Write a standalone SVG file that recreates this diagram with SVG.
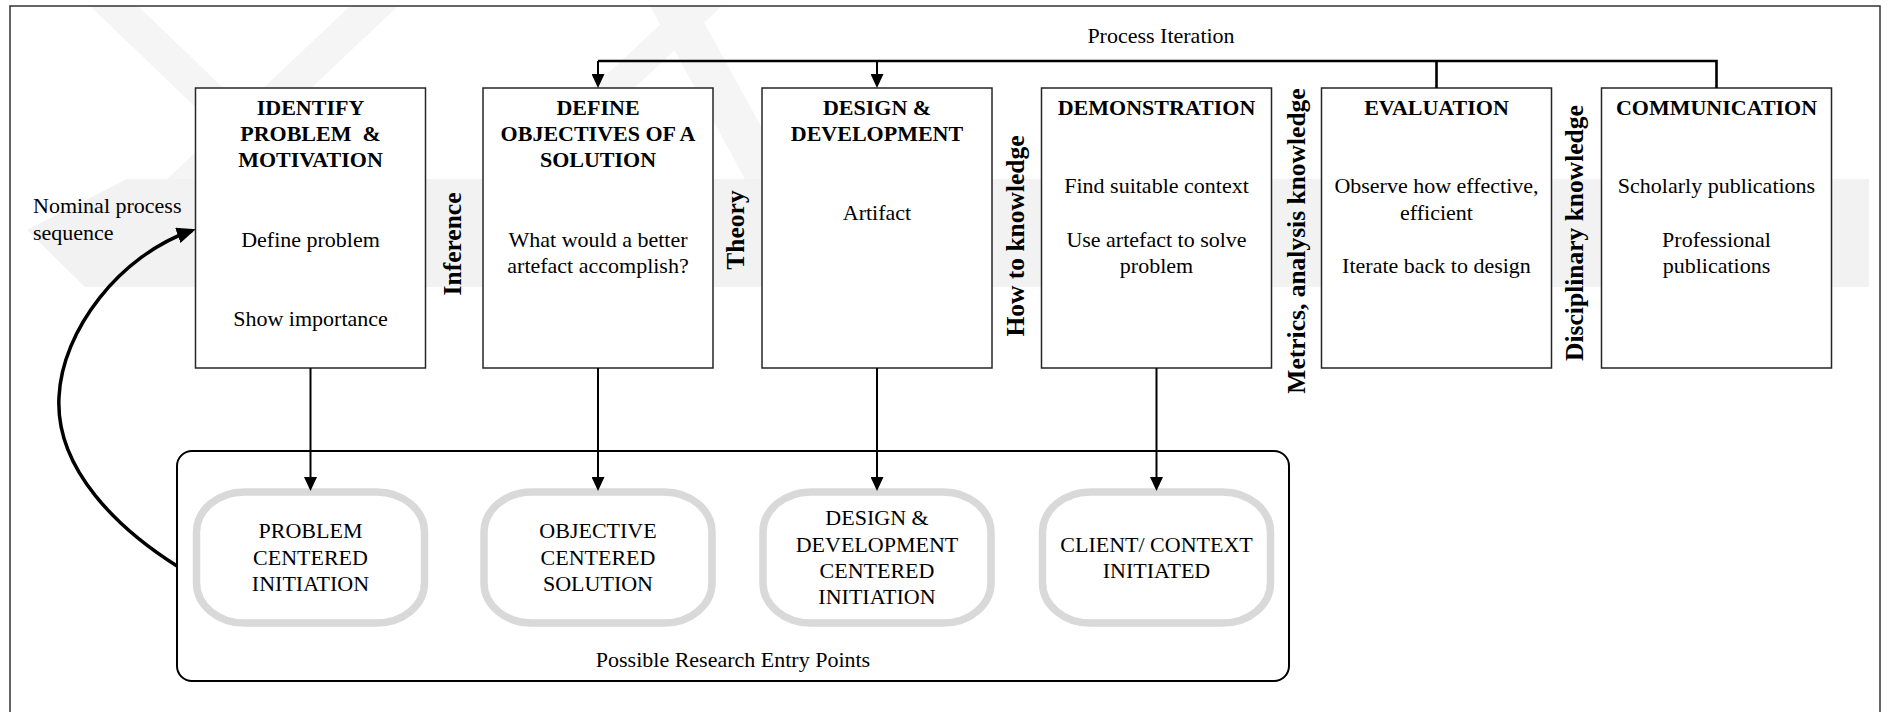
<svg xmlns="http://www.w3.org/2000/svg" width="1888" height="712" viewBox="0 0 1888 712">
  <defs>
    <style>
      .t { font-family: "Liberation Serif", "Times New Roman", serif; font-size: 22px; fill: #000; text-anchor: middle; }
      .b { font-weight: bold; }
      .v { font-size: 25.5px; font-weight: bold; }
      .l { text-anchor: start; }
      .step { fill: #fff; stroke: #262626; stroke-width: 1.5; }
      .entry { fill: #fff; stroke: #d9d9d9; stroke-width: 7.5; }
      .wire { fill: none; stroke: #000; stroke-width: 2; }
      .iter { fill: none; stroke: #000; stroke-width: 2.6; }
      .wm { fill: #f2f2f2; }
      .wm2 { fill: #f5f5f5; }
    </style>
    <marker id="ah" markerUnits="userSpaceOnUse" markerWidth="14" markerHeight="13" refX="11" refY="6.5" orient="auto">
      <path d="M0,0 L14,6.5 L0,13 z" fill="#000"/>
    </marker>
    <marker id="ahBig" markerUnits="userSpaceOnUse" markerWidth="19" markerHeight="16" refX="15" refY="8" orient="auto">
      <path d="M0,0 L19,8 L0,16 z" fill="#000"/>
    </marker>
  </defs>

  <rect width="1888" height="712" fill="#fff"/>

  <!-- faint background emblem -->
  <g id="backdrop">
    <polygon class="wm2" points="90,6 138,6 318,179 270,179"/>
    <polygon class="wm2" points="350,6 398,6 215,179 167,179"/>
    <polygon class="wm2" points="680,6 722,6 537,179 495,179"/>
    <polygon class="wm2" points="650,6 695,6 790,179 745,179"/>
    <polygon class="wm" points="127,179 1869,179 1869,287 85,287 27,230"/>
  </g>

  <!-- outer frame -->
  <rect x="10" y="6" width="1870" height="730" fill="none" stroke="#333" stroke-width="1.5"/>

  <text class="t" x="1161" y="43">Process Iteration</text>
  <text class="t l" x="33" y="213">Nominal process</text>
  <text class="t l" x="33" y="240">sequence</text>

  <!-- knowledge labels between steps -->
  <text class="t v" transform="translate(461,244) rotate(-90)">Inference</text>
  <text class="t v" transform="translate(744,230) rotate(-90)">Theory</text>
  <text class="t v" transform="translate(1024,236) rotate(-90)">How to knowledge</text>
  <text class="t v" transform="translate(1305,241) rotate(-90)">Metrics, analysis knowledge</text>
  <text class="t v" transform="translate(1583,233) rotate(-90)">Disciplinary knowledge</text>

  <!-- process steps -->
  <g id="step-identify">
    <rect class="step" x="195.5" y="88" width="230" height="280"/>
    <text class="t b" x="310.5" y="115">IDENTIFY</text>
    <text class="t b" x="310.5" y="141" xml:space="preserve">PROBLEM  &amp;</text>
    <text class="t b" x="310.5" y="167">MOTIVATION</text>
    <text class="t" x="310.5" y="247">Define problem</text>
    <text class="t" x="310.5" y="326">Show importance</text>
  </g>
  <g id="step-objectives">
    <rect class="step" x="483" y="88" width="230" height="280"/>
    <text class="t b" x="598" y="115">DEFINE</text>
    <text class="t b" x="598" y="141">OBJECTIVES OF A</text>
    <text class="t b" x="598" y="167">SOLUTION</text>
    <text class="t" x="598" y="247">What would a better</text>
    <text class="t" x="598" y="273">artefact accomplish?</text>
  </g>
  <g id="step-design">
    <rect class="step" x="762" y="88" width="230" height="280"/>
    <text class="t b" x="877" y="115">DESIGN &amp;</text>
    <text class="t b" x="877" y="141">DEVELOPMENT</text>
    <text class="t" x="877" y="220">Artifact</text>
  </g>
  <g id="step-demonstration">
    <rect class="step" x="1041.5" y="88" width="230" height="280"/>
    <text class="t b" x="1156.5" y="115">DEMONSTRATION</text>
    <text class="t" x="1156.5" y="193">Find suitable context</text>
    <text class="t" x="1156.5" y="247">Use artefact to solve</text>
    <text class="t" x="1156.5" y="273">problem</text>
  </g>
  <g id="step-evaluation">
    <rect class="step" x="1321.5" y="88" width="230" height="280"/>
    <text class="t b" x="1436.5" y="115">EVALUATION</text>
    <text class="t" x="1436.5" y="193">Observe how effective,</text>
    <text class="t" x="1436.5" y="220">efficient</text>
    <text class="t" x="1436.5" y="273">Iterate back to design</text>
  </g>
  <g id="step-communication">
    <rect class="step" x="1601.5" y="88" width="230" height="280"/>
    <text class="t b" x="1716.5" y="115">COMMUNICATION</text>
    <text class="t" x="1716.5" y="193">Scholarly publications</text>
    <text class="t" x="1716.5" y="247">Professional</text>
    <text class="t" x="1716.5" y="273">publications</text>
  </g>

  <!-- research entry points -->
  <g id="entry-points">
    <rect x="177" y="451" width="1112" height="230" rx="15" fill="none" stroke="#000" stroke-width="2"/>
    <text class="t" x="733" y="667">Possible Research Entry Points</text>
  </g>
  <g id="entry-problem">
    <rect class="entry" x="196.5" y="492" width="228" height="131" rx="48" ry="40"/>
    <text class="t" x="310.5" y="538">PROBLEM</text>
    <text class="t" x="310.5" y="564.5">CENTERED</text>
    <text class="t" x="310.5" y="591">INITIATION</text>
  </g>
  <g id="entry-objective">
    <rect class="entry" x="484" y="492" width="228" height="131" rx="48" ry="40"/>
    <text class="t" x="598" y="538">OBJECTIVE</text>
    <text class="t" x="598" y="564.5">CENTERED</text>
    <text class="t" x="598" y="591">SOLUTION</text>
  </g>
  <g id="entry-design">
    <rect class="entry" x="763" y="492" width="228" height="131" rx="48" ry="40"/>
    <text class="t" x="877" y="525">DESIGN &amp;</text>
    <text class="t" x="877" y="551.5">DEVELOPMENT</text>
    <text class="t" x="877" y="578">CENTERED</text>
    <text class="t" x="877" y="604">INITIATION</text>
  </g>
  <g id="entry-client">
    <rect class="entry" x="1042.5" y="492" width="228" height="131" rx="48" ry="40"/>
    <text class="t" x="1156.5" y="551.5">CLIENT/ CONTEXT</text>
    <text class="t" x="1156.5" y="578">INITIATED</text>
  </g>

  <!-- connectors -->
  <g id="connectors">
    <path class="iter" d="M598,61 H1716.5 V88"/>
    <path class="iter" d="M1436.5,61 V88"/>
    <path class="wire" d="M598,61 V85" marker-end="url(#ah)"/>
    <path class="wire" d="M877,61 V85" marker-end="url(#ah)"/>
    <path class="wire" d="M310.5,368 V488" marker-end="url(#ah)"/>
    <path class="wire" d="M598,368 V488" marker-end="url(#ah)"/>
    <path class="wire" d="M877,368 V488" marker-end="url(#ah)"/>
    <path class="wire" d="M1156.5,368 V488" marker-end="url(#ah)"/>
    <path d="M177,566 C120,530 55,470 59,397 C62,330 120,255 192,230.5" fill="none" stroke="#000" stroke-width="3.5" marker-end="url(#ahBig)"/>
  </g>
</svg>
